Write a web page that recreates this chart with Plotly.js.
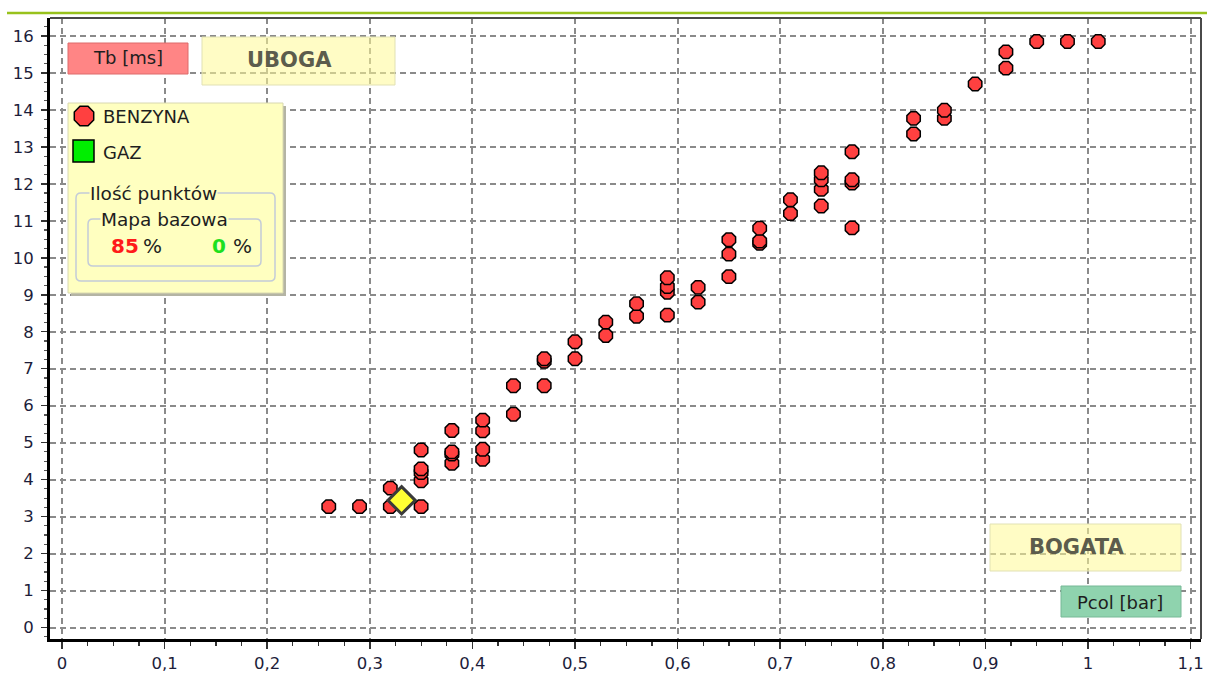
<!DOCTYPE html>
<html><head><meta charset="utf-8">
<script src="https://cdn.plot.ly/plotly-3.0.1.min.js"></script>
<style>html,body{margin:0;padding:0;background:#fff;}#chart{width:1207px;height:677px;}</style>
</head><body><div id="chart"></div>
<script>
// ---- data ----
const benzynaX = [0.26, 0.29, 0.32, 0.32,
  0.35, 0.35, 0.35, 0.35, 0.35,
  0.38, 0.38, 0.38, 0.38,
  0.41, 0.41, 0.41, 0.41,
  0.44, 0.44,
  0.47, 0.47, 0.47,
  0.50, 0.50,
  0.53, 0.53,
  0.56, 0.56,
  0.59, 0.59, 0.59, 0.59,
  0.62, 0.62,
  0.65, 0.65, 0.65,
  0.68, 0.68, 0.68,
  0.71, 0.71,
  0.74, 0.74, 0.74, 0.74,
  0.77, 0.77, 0.77, 0.77,
  0.83, 0.83,
  0.86, 0.86,
  0.89,
  0.92, 0.92,
  0.95, 0.98, 1.01];
const benzynaY = [3.27, 3.27, 3.27, 3.77,
  3.27, 3.97, 4.19, 4.29, 4.80,
  4.44, 4.69, 4.75, 5.33,
  4.55, 4.82, 5.32, 5.61,
  5.77, 6.54,
  6.54, 7.20, 7.27,
  7.27, 7.73,
  7.90, 8.26,
  8.42, 8.76,
  8.45, 9.07, 9.22, 9.46,
  8.80, 9.20,
  9.49, 10.10, 10.49,
  10.39, 10.45, 10.80,
  11.20, 11.57,
  11.40, 11.85, 12.11, 12.30,
  10.81, 12.02, 12.11, 12.87,
  13.35, 13.77,
  13.77, 13.99,
  14.70,
  15.13, 15.57,
  15.85, 15.85, 15.85];
const gazX = [];
const gazY = [];
const currentX = [0.331];
const currentY = [3.44];

const xTickStep = 0.1;
const yTickStep = 1;

// ---- layout helpers (pixel -> paper) ----
const PL = 50, PR = 1201, PT = 18, PB = 639;
const fx = p => (p - PL) / (PR - PL);
const fy = p => (PB - p) / (PB - PT);
const FONT = 'DejaVu Sans, Verdana, sans-serif';
const PANEL = '#ffffc0';

function rect(x0, y0, x1, y1, fill, line, lw) {
  return {type: 'rect', xref: 'paper', yref: 'paper', layer: 'above',
    x0: fx(x0), x1: fx(x1), y0: fy(y0), y1: fy(y1),
    fillcolor: fill, line: {color: line || 'rgba(0,0,0,0)', width: lw === undefined ? 1 : lw}};
}
function pathOf(pts) {
  return pts.map((p, i) => (i ? 'L' : 'M') + fx(p[0]) + ',' + fy(p[1])).join(' ') + ' Z';
}
function roundRect(x0, y0, x1, y1, r, color) {
  const P = (x, y) => fx(x) + ',' + fy(y);
  const d = 'M' + P(x0 + r, y0) + ' L' + P(x1 - r, y0) + ' Q' + P(x1, y0) + ' ' + P(x1, y0 + r) +
    ' L' + P(x1, y1 - r) + ' Q' + P(x1, y1) + ' ' + P(x1 - r, y1) +
    ' L' + P(x0 + r, y1) + ' Q' + P(x0, y1) + ' ' + P(x0, y1 - r) +
    ' L' + P(x0, y0 + r) + ' Q' + P(x0, y0) + ' ' + P(x0 + r, y0) + ' Z';
  return {type: 'path', xref: 'paper', yref: 'paper', layer: 'above', path: d,
    line: {color: color, width: 1.5}};
}
function octagon(cx, cy, r) {
  const pts = [];
  for (let i = 0; i < 8; i++) {
    const a = Math.PI / 8 + i * Math.PI / 4;
    pts.push([cx + r * Math.cos(a), cy + r * Math.sin(a)]);
  }
  return pts;
}
function txt(text, x, y, opts) {
  opts = opts || {};
  return Object.assign({xref: 'paper', yref: 'paper', x: fx(x), y: fy(y), text: text,
    showarrow: false, xanchor: opts.xa || 'center', yanchor: 'middle',
    font: {family: FONT, size: opts.size || 18, color: opts.color || '#1e1e1e'}},
    opts.bg ? {bgcolor: opts.bg, borderpad: 0} : {});
}

const shapes = [
  {type: 'line', xref: 'paper', yref: 'paper', layer: 'above', x0: fx(7), x1: fx(1207), y0: fy(13), y1: fy(13),
    line: {color: '#98c21c', width: 2.5}},
  {type: 'line', xref: 'paper', yref: 'paper', layer: 'above', x0: 0, x1: 1, y0: 1, y1: 1,
    line: {color: '#4a4a4a', width: 2}},
  {type: 'line', xref: 'paper', yref: 'paper', layer: 'above', x0: 1, x1: 1, y0: 0, y1: 1,
    line: {color: '#4a4a4a', width: 2}},
  rect(68, 43, 188, 74, '#ff8585', '#dd6a6a', 1),
  rect(202, 37, 395, 85, 'rgba(255,250,150,0.55)', 'rgba(225,225,180,1)', 1),
  rect(71, 106, 286, 296, '#b4b4a4', null, 0),
  rect(68, 103, 283, 293, PANEL, '#d8d8b0', 1),
  {type: 'path', xref: 'paper', yref: 'paper', layer: 'above', path: pathOf(octagon(84, 116, 10.5)),
    fillcolor: '#ff4040', line: {color: '#000', width: 1.5}},
  rect(73, 140, 94, 162, '#00ee00', '#000', 1.5),
  roundRect(76, 193, 275, 281, 5, '#c4ccd8'),
  roundRect(88, 219, 261, 266, 5, '#c4ccd8'),
  rect(990, 524, 1181, 571, 'rgba(255,250,150,0.55)', 'rgba(225,225,180,1)', 1),
  rect(1061, 586, 1181, 617, '#8fd3ae', '#76b896', 1)
];

const annotations = [
  txt('Tb [ms]', 128, 58, {size: 18}),
  txt('<b>UBOGA</b>', 289, 60, {size: 21, color: '#5c5c4c'}),
  txt('BENZYNA', 101, 116, {xa: 'left', size: 18}),
  txt('GAZ', 101, 153, {xa: 'left', size: 18}),
  txt('Ilość punktów', 89, 193, {xa: 'left', size: 18.5, bg: PANEL}),
  txt('Mapa bazowa', 100, 219, {xa: 'left', size: 18.5, bg: PANEL}),
  txt('<b>85</b>', 109, 246, {xa: 'left', size: 20, color: '#ff1a1a'}),
  txt('%', 141, 246, {xa: 'left', size: 20}),
  txt('<b>0</b>', 210, 246, {xa: 'left', size: 20, color: '#1ee01e'}),
  txt('%', 231, 246, {xa: 'left', size: 20}),
  txt('<b>BOGATA</b>', 1076, 547, {size: 21, color: '#5c5c4c'}),
  txt('Pcol [bar]', 1120, 602, {size: 18})
];

const axisCommon = {
  ticks: 'outside', tickwidth: 1.5, tickcolor: '#333',
  showline: true, linewidth: 3, linecolor: '#000', mirror: false,
  showgrid: true, gridcolor: '#8a8a8a', gridwidth: 2, griddash: '6px,4px',
  zeroline: false, fixedrange: true,
  tickfont: {family: FONT, size: 16.5, color: '#1d1d3a'}
};

const layout = {
  width: 1207, height: 677,
  margin: {l: PL, r: 1207 - PR, t: PT, b: 677 - PB, pad: 0},
  paper_bgcolor: '#fff', plot_bgcolor: '#fff',
  separators: ', ',
  showlegend: false,
  xaxis: Object.assign({}, axisCommon, {
    range: [-0.011696, 1.110136], tick0: 0, dtick: xTickStep, ticklen: 7, ticklabelstandoff: 0,
    minor: {dtick: xTickStep / 4, ticks: 'outside', ticklen: 4, tickwidth: 1.2, tickcolor: '#333', showgrid: false}
  }),
  yaxis: Object.assign({}, axisCommon, {
    range: [-0.311, 16.486], tick0: 0, dtick: yTickStep, ticklen: 6, ticklabelstandoff: 4,
    minor: {dtick: yTickStep / 4, ticks: 'outside', ticklen: 3, tickwidth: 1.2, tickcolor: '#555', showgrid: false}
  }),
  shapes: shapes,
  annotations: annotations
};

const traces = [
  {type: 'scatter', mode: 'markers', name: 'BENZYNA', x: benzynaX, y: benzynaY,
    marker: {symbol: 'octagon', size: 14.5, color: '#ff4040', line: {color: '#000', width: 1.5}}},
  {type: 'scatter', mode: 'markers', name: 'GAZ', x: gazX, y: gazY,
    marker: {symbol: 'square', size: 14, color: '#00ee00', line: {color: '#000', width: 1.5}}},
  {type: 'scatter', mode: 'markers', name: 'current', x: currentX, y: currentY,
    marker: {symbol: 'diamond', size: 21, color: '#ffff33', line: {color: '#3a3a3a', width: 3}}}
];

Plotly.newPlot('chart', traces, layout, {displayModeBar: false, staticPlot: true});
</script>
</body></html>
